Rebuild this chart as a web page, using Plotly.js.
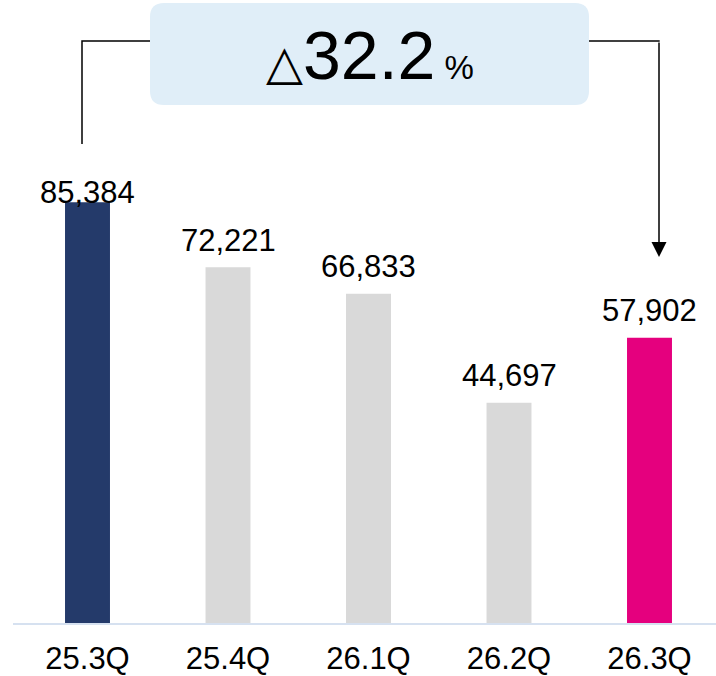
<!DOCTYPE html>
<html>
<head>
<meta charset="utf-8">
<script src="https://cdn.plot.ly/plotly-3.0.1.min.js"></script>
<style>html,body{margin:0;padding:0;background:#fff;}#chart{width:716px;height:676px;}</style>
</head>
<body>
<div id="chart"></div>
<script>
const quarters = ["25.3Q", "25.4Q", "26.1Q", "26.2Q", "26.3Q"];
const sales = [85384, 72221, 66833, 44697, 57902];
const barColors = ["#243a6a", "#d9d9d9", "#d9d9d9", "#d9d9d9", "#e5007e"];
const changeText = "32.2";

const W = 716, H = 676;
const ml = 13, mr = 0, mt = 0, mb = 53;
const plotW = W - ml - mr, plotH = H - mt - mb;
const px = x => (x - ml) / plotW;          // pixel -> paper x
const py = y => (plotH + mt - y) / plotH;  // pixel -> paper y

const fontFam = "Arial, 'Liberation Sans', sans-serif";

const annotations = sales.map((v, i) => ({
  x: quarters[i], y: v, xref: 'x', yref: 'y',
  text: v.toLocaleString('en-US'),
  showarrow: false, yanchor: 'middle',
  yshift: i === 0 ? 10 : 27,
  font: {family: fontFam, size: 31, color: '#000'}
}));

// change text in box
annotations.push({
  xref: 'paper', yref: 'paper', x: px(370), y: py(55),
  xanchor: 'center', yanchor: 'middle', showarrow: false,
  text: '<span style="font-size:48px">△</span>' + changeText + '<span style="font-size:33px"> %</span>',
  font: {family: fontFam, size: 68, color: '#000'}
});
// arrow on right
annotations.push({
  xref: 'paper', yref: 'paper', x: px(659), y: py(257),
  axref: 'pixel', ayref: 'pixel', ax: 0, ay: -216,
  showarrow: true, arrowhead: 2, arrowsize: 2, arrowwidth: 1.5, arrowcolor: '#000',
  text: ''
});

function roundRect(x0, y0, x1, y1, r) {
  const X0 = px(x0), X1 = px(x1), Y0 = py(y0), Y1 = py(y1);
  const rx = r / plotW, ry = r / plotH;
  return `M ${X0 + rx} ${Y0} L ${X1 - rx} ${Y0} Q ${X1} ${Y0} ${X1} ${Y0 - ry} ` +
         `L ${X1} ${Y1 + ry} Q ${X1} ${Y1} ${X1 - rx} ${Y1} L ${X0 + rx} ${Y1} ` +
         `Q ${X0} ${Y1} ${X0} ${Y1 + ry} L ${X0} ${Y0 - ry} Q ${X0} ${Y0} ${X0 + rx} ${Y0} Z`;
}

const shapes = [
  {type: 'path', xref: 'paper', yref: 'paper', path: roundRect(150, 3, 589, 105, 14),
   fillcolor: '#e0eef8', line: {width: 0}, layer: 'below'},
  {type: 'path', xref: 'paper', yref: 'paper',
   path: `M ${px(82)} ${py(144)} L ${px(82)} ${py(41)} L ${px(150)} ${py(41)}`,
   line: {color: '#000', width: 1.5}},
  {type: 'line', xref: 'paper', yref: 'paper', x0: px(589), y0: py(41), x1: px(659.7), y1: py(41),
   line: {color: '#000', width: 1.5}}
];

const trace = {
  type: 'bar', x: quarters, y: sales,
  marker: {color: barColors, line: {width: 0}},
  hoverinfo: 'none'
};

const layout = {
  width: W, height: H,
  margin: {l: ml, r: mr, t: mt, b: mb, pad: 0},
  paper_bgcolor: '#fff', plot_bgcolor: '#fff',
  showlegend: false,
  bargap: 0.68,
  xaxis: {
    type: 'category',
    range: [(ml - 87.5) / 140.5, (W - mr - 87.5) / 140.5],
    showline: true, linecolor: '#d6e1f0', linewidth: 2,
    ticks: '', showgrid: false, zeroline: false,
    ticklabelstandoff: 7,
    tickfont: {family: fontFam, size: 31, color: '#000'}
  },
  yaxis: {
    range: [0, plotH / 0.004927],
    visible: false, showgrid: false, zeroline: false
  },
  annotations: annotations,
  shapes: shapes
};

Plotly.newPlot('chart', [trace], layout, {displayModeBar: false, staticPlot: true});
</script>
</body>
</html>
